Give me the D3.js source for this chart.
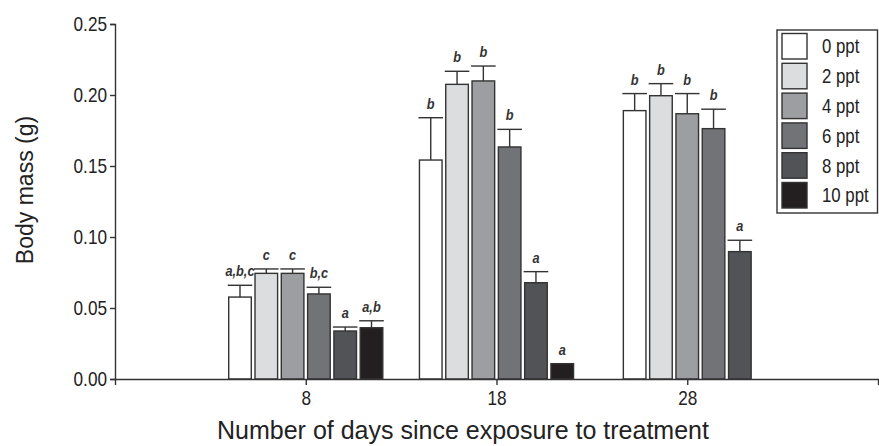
<html>
<meta charset="utf-8">
<head>
  <title>Body mass by salinity</title>
</head>
<style>
body { margin: 0; background: #fff; }
text { font-family: "Liberation Sans", Arial, sans-serif; }
</style>
<body>
<svg id="chart" width="879" height="446"></svg>
<script src="https://d3js.org/d3.v7.min.js"></script>
<script>
// days on the x axis
var days = [8, 18, 28]
var seriesNames = ['0 ppt', '2 ppt', '4 ppt', '6 ppt', '8 ppt', '10 ppt']
var seriesColors = ['#ffffff', '#dcdddf', '#9d9ea2', '#727377', '#525356', '#231f20']
var yTicks = [0, 0.05, 0.10, 0.15, 0.20, 0.25]

// mean body mass (g) at day 8, 18, 28  (null = not measured)
var mean0 = [0.0577, 0.1542, 0.1890]
var mean2 = [0.0744, 0.2075, 0.1995]
var mean4 = [0.0744, 0.2099, 0.1868]
var mean6 = [0.0599, 0.1634, 0.1763]
var mean8 = [0.0338, 0.0678, 0.0897]
var mean10 = [0.0361, 0.0108, null]

// standard error
var err0 = [0.0083, 0.0298, 0.0120]
var err2 = [0.0031, 0.0092, 0.0085]
var err4 = [0.0031, 0.0105, 0.0142]
var err6 = [0.0047, 0.0124, 0.0137]
var err8 = [0.0028, 0.0078, 0.0080]
var err10 = [0.0049, 0, null]

// significance letters
var sig0 = ['a,b,c', 'b', 'b']
var sig2 = ['c', 'b', 'b']
var sig4 = ['c', 'b', 'b']
var sig6 = ['b,c', 'b', 'b']
var sig8 = ['a', 'a', 'a']
var sig10 = ['a,b', 'a', null]

var means = [mean0, mean2, mean4, mean6, mean8, mean10]
var errs = [err0, err2, err4, err6, err8, err10]
var sigs = [sig0, sig2, sig4, sig6, sig8, sig10]

var svg = d3.select('#chart')
var ink = '#333'

// no narrow font installed, so squeeze the regular one horizontally
function squeeze(sel, k) {
  sel.each(function() {
    var t = d3.select(this)
    var xv = +t.attr('x') || 0
    t.attr('x', xv / k).attr('transform', 'scale(' + k + ',1)')
  })
}

var x = d3.scaleLinear().domain([-2, 38]).range([115, 878])
var y = d3.scaleLinear().domain([0, 0.25]).range([379, 24])

var pitch = 26.3, gap = 3.7

// build one record per bar
var bars = []
days.forEach(function(day, di) {
  var present = d3.range(seriesNames.length).filter(function(si) { return means[si][di] != null })
  var w = present.length * pitch - gap
  var inner = d3.scaleBand().domain(present).range([x(day) - w / 2, x(day) + w / 2]).paddingInner(gap / pitch)
  present.forEach(function(si) {
    bars.push({
      day: day, si: si,
      x0: inner(si), bw: inner.bandwidth(),
      v: means[si][di], e: errs[si][di], sig: sigs[si][di]
    })
  })
})

// error bars first so the bar outline sits on top
var eb = svg.append('g').attr('stroke', ink).attr('stroke-width', 1.4)
bars.filter(function(d) { return d.e > 0 }).forEach(function(d) {
  var cx = d.x0 + d.bw / 2
  eb.append('line').attr('x1', cx).attr('x2', cx).attr('y1', y(d.v)).attr('y2', y(d.v + d.e))
  eb.append('line').attr('x1', cx - d.bw / 2 - 1).attr('x2', cx + d.bw / 2 + 1)
    .attr('y1', y(d.v + d.e)).attr('y2', y(d.v + d.e))
})

svg.append('g').selectAll('rect')
  .data(bars)
  .enter()
  .append('rect')
  .attr('x', function(d) { return d.x0 })
  .attr('y', function(d) { return y(d.v) })
  .attr('width', function(d) { return d.bw })
  .attr('height', function(d) { return y(0) - y(d.v) })
  .attr('fill', function(d) { return seriesColors[d.si] })
  .attr('stroke', ink)
  .attr('stroke-width', 1.4)

var sigText = svg.append('g').selectAll('text')
  .data(bars.filter(function(d) { return d.sig }))
  .enter()
  .append('text')
  .attr('x', function(d) { return d.x0 + d.bw / 2 })
  .attr('y', function(d) { return y(d.v + d.e) - 9 })
  .attr('text-anchor', 'middle')
  .attr('font-size', 15)
  .attr('font-style', 'italic')
  .attr('font-weight', 'bold')
  .attr('fill', '#333')
  .text(function(d) { return d.sig })
squeeze(sigText, 0.85)

// axes
var yAxis = svg.append('g')
  .attr('transform', 'translate(115,0)')
  .call(d3.axisLeft(y).tickValues(yTicks).tickFormat(d3.format('.2f')).tickSize(5).tickPadding(3))
var xAxis = svg.append('g')
  .attr('transform', 'translate(0,379)')
  .call(d3.axisBottom(x).tickValues(days).tickFormat(d3.format('d')).tickSize(6).tickPadding(6))

;[yAxis, xAxis].forEach(function(a) {
  a.selectAll('path, line').attr('stroke', ink).attr('stroke-width', 1.4)
  var t = a.selectAll('text').attr('font-size', 20).attr('fill', '#222')
    .attr('font-family', '"Liberation Sans", Arial, sans-serif')
  squeeze(t, 0.86)
})

// axis titles
svg.append('text')
  .attr('transform', 'translate(33,190) rotate(-90)')
  .attr('text-anchor', 'middle')
  .attr('font-size', 23)
  .attr('fill', '#222')
  .text('Body mass (g)')

svg.append('text')
  .attr('x', 463)
  .attr('y', 439)
  .attr('text-anchor', 'middle')
  .attr('font-size', 25)
  .attr('fill', '#222')
  .text('Number of days since exposure to treatment')

// legend
var legend = svg.append('g')
legend.append('rect')
  .attr('x', 777).attr('y', 30).attr('width', 100.5).attr('height', 183)
  .attr('fill', '#fff').attr('stroke', ink).attr('stroke-width', 1.4)

var item = legend.selectAll('g.item')
  .data(seriesNames)
  .enter()
  .append('g')
  .attr('transform', function(d, i) { return 'translate(782,' + (33.5 + i * 29.8) + ')' })
item.append('rect')
  .attr('width', 25).attr('height', 25.5)
  .attr('fill', function(d, i) { return seriesColors[i] })
  .attr('stroke', ink).attr('stroke-width', 1.4)
var legText = item.append('text')
  .attr('x', 40).attr('y', 20)
  .attr('font-size', 20)
  .attr('fill', '#222')
  .text(function(d) { return d })
squeeze(legText, 0.84)
</script>
</body>
</html>
